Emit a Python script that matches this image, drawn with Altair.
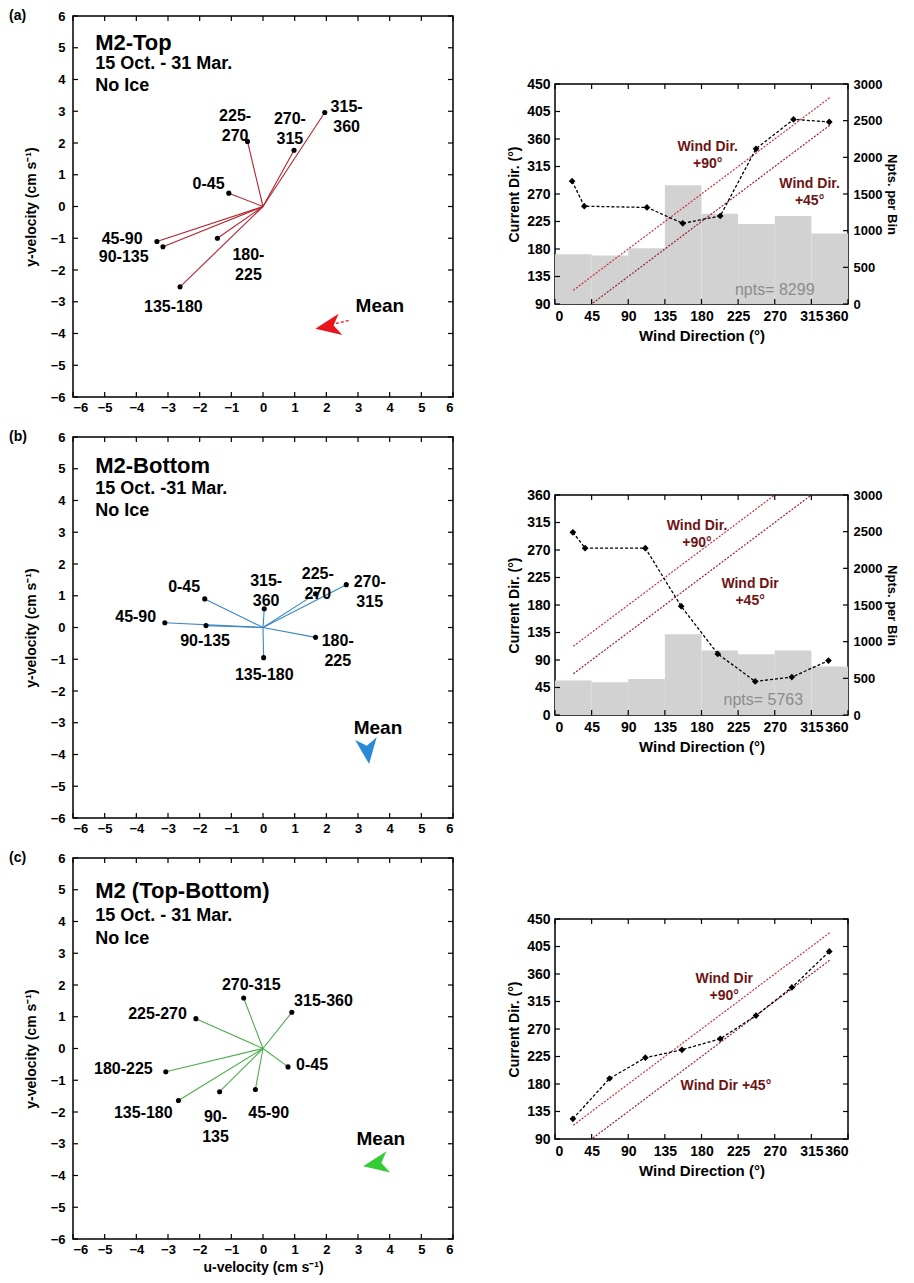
import altair as alt
import pandas as pd

FONT = "Liberation Sans"
LW, LH = 380, 381
RW, RH = 293, 220

# ---------------- data: left panels (vector endpoints, cm/s) ----------------
bin_names = ["0-45", "45-90", "90-135", "135-180", "180-225", "225-270", "270-315", "315-360"]

top_u = [-1.08, -3.35, -3.16, -2.62, -1.44, -0.49, 0.98, 1.95]
top_v = [0.42, -1.10, -1.27, -2.53, -1.00, 2.05, 1.77, 2.96]
top_lab = ["0-45", "45-90", "90-135", "135-180", "180-\n225", "225-\n270", "270-\n315", "315-\n360"]
top_lab_x = [-1.72, -4.45, -4.40, -2.83, -0.46, -0.88, 0.85, 2.64]
top_lab_y = [0.70, -1.03, -1.58, -3.15, -1.53, 2.85, 2.75, 3.12]

bot_u = [-1.84, -3.10, -1.80, 0.02, 1.66, 1.66, 2.63, 0.04]
bot_v = [0.90, 0.15, 0.06, -0.95, -0.31, 1.06, 1.35, 0.59]
bot_lab = ["0-45", "45-90", "90-135", "135-180", "180-\n225", "225-\n270", "270-\n315", "315-\n360"]
bot_lab_x = [-2.49, -4.02, -1.83, 0.04, 2.36, 1.73, 3.37, 0.10]
bot_lab_y = [1.27, 0.32, -0.44, -1.51, -0.44, 1.68, 1.44, 1.46]

dif_u = [0.79, -0.24, -1.37, -2.67, -3.07, -2.12, -0.61, 0.91]
dif_v = [-0.58, -1.29, -1.36, -1.64, -0.73, 0.94, 1.59, 1.14]
dif_lab = ["0-45", "45-90", "90-\n135", "135-180", "180-225", "225-270", "270-315", "315-360"]
dif_lab_x = [1.55, 0.18, -1.50, -3.78, -4.41, -3.33, -0.37, 1.91]
dif_lab_y = [-0.52, -2.02, -2.17, -2.02, -0.66, 1.10, 1.99, 1.49]

# mean arrows: [x, y]
top_mean = [2.05, -3.78]
bot_mean = [3.30, -3.90]
dif_mean = [3.56, -3.64]
top_mean_lab = [3.69, -3.13]
bot_mean_lab = [3.63, -3.18]
dif_mean_lab = [3.72, -2.84]
top_mean_tail_x = [2.15, 2.75]
top_mean_tail_y = [-3.72, -3.58]

# ---------------- data: right panels ----------------
bin_lo = [0, 45, 90, 135, 180, 225, 270, 315]
bin_hi = [45, 90, 135, 180, 225, 270, 315, 360]

top_wd = [21, 36, 113, 157, 203, 247, 293, 337]
top_cd = [291, 250, 248, 222, 234, 344, 392, 388]
top_hist = [680, 660, 760, 1620, 1230, 1090, 1200, 960]

bot_wd = [22, 37, 111, 155, 200, 246, 291, 336]
bot_cd = [299, 273, 273, 178, 100, 55, 62, 89]
bot_hist = [470, 445, 490, 1100, 880, 830, 880, 660]

dif_wd = [22, 67, 111, 156, 203, 247, 291, 337]
dif_cd = [123, 189, 223, 236, 254, 292, 338, 397]

ref_x = [22.5, 337.5]
ref90_y = [112.5, 427.5]
ref45_y = [67.5, 382.5]

ARROW = "M -1 0 L 1 -0.85 L 0.45 0 L 1 0.85 Z"


def tick_layers(xv, yv, xenc, yenc, W, H, tl=5):
    dx = pd.DataFrame({"t": xv})
    dy = pd.DataFrame({"t": yv})
    base = dict(color="black", strokeWidth=1.2)
    return [
        alt.Chart(dx).mark_rule(**base).encode(x=xenc("t"), y=alt.value(0), y2=alt.value(tl)),
        alt.Chart(dx).mark_rule(**base).encode(x=xenc("t"), y=alt.value(H), y2=alt.value(H - tl)),
        alt.Chart(dy).mark_rule(**base).encode(y=yenc("t"), x=alt.value(0), x2=alt.value(tl)),
        alt.Chart(dy).mark_rule(**base).encode(y=yenc("t"), x=alt.value(W - tl), x2=alt.value(W)),
    ]


def vec_panel(u, v, labs, lx, ly, vcolor, head, sub, title_y, mean_xy, mean_lab, mcolor, mangle,
              tag, xtitle=None, tail=None):
    vals = list(range(-6, 7))
    sc = alt.Scale(domain=[-6, 6], nice=False, zero=False)
    if xtitle:
        xax = alt.Axis(values=vals, labelFontSize=13, labelPadding=4, title=xtitle,
                       titleFontSize=14, titlePadding=4)
    else:
        xax = alt.Axis(values=vals, labelFontSize=13, labelPadding=4, title=None)
    yax = alt.Axis(values=vals, labelFontSize=13, labelPadding=8, title="y-velocity (cm s⁻¹)",
                   titleFontSize=14, titlePadding=12)

    def X(f):
        return alt.X(f, type="quantitative", scale=sc, axis=xax)

    def Y(f):
        return alt.Y(f, type="quantitative", scale=sc, axis=yax)

    d = pd.DataFrame({"bin": bin_names, "u": u, "v": v, "o": [0.0] * 8,
                      "lab": labs, "lx": lx, "ly": ly})
    layers = []
    layers.append(alt.Chart(d).mark_rule(color=vcolor, strokeWidth=1.1).encode(
        x=X("o"), y=Y("o"), x2="u", y2="v"))
    layers.append(alt.Chart(d).mark_point(filled=True, color="black", size=26, opacity=1).encode(
        x=X("u"), y=Y("v")))
    layers.append(alt.Chart(d).mark_text(font=FONT, fontWeight="bold", fontSize=16, lineBreak="\n",
                                         lineHeight=20, color="black").encode(
        x=X("lx"), y=Y("ly"), text="lab"))
    tdf = pd.DataFrame({"t": [head, sub, "No Ice"], "x": [-5.3] * 3, "y": title_y,
                        "fs": [22, 18, 18]})
    layers.append(alt.Chart(tdf).mark_text(font=FONT, fontWeight="bold", align="left", color="black").encode(
        x=X("x"), y=Y("y"), text="t", size=alt.Size("fs:Q", scale=None, legend=None)))
    mdf = pd.DataFrame({"x": [mean_xy[0]], "y": [mean_xy[1]], "lx": [mean_lab[0]], "ly": [mean_lab[1]],
                        "t": ["Mean"]})
    if tail is not None:
        tdf2 = pd.DataFrame({"x": [tail[0][0]], "x2": [tail[0][1]], "y": [tail[1][0]], "y2": [tail[1][1]]})
        layers.append(alt.Chart(tdf2).mark_rule(color=mcolor, strokeWidth=1.3, strokeDash=[3, 2]).encode(
            x=X("x"), y=Y("y"), x2="x2", y2="y2"))
    layers.append(alt.Chart(mdf).mark_point(shape=ARROW, filled=True, color=mcolor, size=650,
                                            angle=mangle, opacity=1).encode(x=X("x"), y=Y("y")))
    layers.append(alt.Chart(mdf).mark_text(font=FONT, fontWeight="bold", fontSize=19, color="black").encode(
        x=X("lx"), y=Y("ly"), text="t"))
    layers += tick_layers(vals, vals, X, Y, LW, LH)
    layers.append(alt.Chart(mdf).mark_text(font=FONT, fontWeight="bold", fontSize=14, align="left",
                                           baseline="middle", color="black").encode(
        x=alt.value(-64), y=alt.value(0), text=alt.value(tag)))
    return alt.layer(*layers).properties(width=LW, height=LH)


def dir_panel(wd, cd, ydom, texts, hist=None, npts=None):
    xvals = list(range(0, 361, 45))
    yvals = list(range(ydom[0], ydom[1] + 1, 45))
    xsc = alt.Scale(domain=[0, 360], nice=False, zero=False)
    ysc = alt.Scale(domain=ydom, nice=False, zero=False)
    xax = alt.Axis(values=xvals, labelFontSize=14, labelPadding=5, title="Wind Direction  (°)",
                   titleFontSize=15, titlePadding=5)
    yax = alt.Axis(values=yvals, labelFontSize=14, labelPadding=5, title="Current Dir. (°)",
                   titleFontSize=14, titlePadding=5)

    def X(f):
        return alt.X(f, type="quantitative", scale=xsc, axis=xax)

    def Y(f):
        return alt.Y(f, type="quantitative", scale=ysc, axis=yax)

    main = []
    rdf = pd.DataFrame({"x": ref_x, "y90": ref90_y, "y45": ref45_y})
    main.append(alt.Chart(rdf).mark_line(color="#d0303c", strokeWidth=1.2, strokeDash=[2, 1.5], clip=True).encode(
        x=X("x"), y=Y("y90")))
    main.append(alt.Chart(rdf).mark_line(color="#a01e2a", strokeWidth=1.2, strokeDash=[2, 1.5], clip=True).encode(
        x=X("x"), y=Y("y45")))
    cdf = pd.DataFrame({"wd": wd, "cd": cd})
    main.append(alt.Chart(cdf).mark_line(color="black", strokeWidth=1.3, strokeDash=[3, 2]).encode(
        x=X("wd"), y=Y("cd")))
    main.append(alt.Chart(cdf).mark_point(shape="diamond", filled=True, color="black", size=45, opacity=1).encode(
        x=X("wd"), y=Y("cd")))
    tdf = pd.DataFrame({"t": [t[0] for t in texts], "x": [t[1] for t in texts], "y": [t[2] for t in texts]})
    main.append(alt.Chart(tdf).mark_text(font=FONT, fontWeight="bold", fontSize=14, lineBreak="\n",
                                         lineHeight=17, color="#6e1414").encode(
        x=X("x"), y=Y("y"), text="t"))
    if npts is not None:
        ndf = pd.DataFrame({"t": [npts[0]], "x": [npts[1]], "y": [npts[2]]})
        main.append(alt.Chart(ndf).mark_text(font=FONT, fontSize=16, color="#8c8c8c").encode(
            x=X("x"), y=Y("y"), text="t"))
    main += tick_layers(xvals, yvals, X, Y, RW, RH)[:3]
    if hist is None:
        main += tick_layers(xvals, yvals, X, Y, RW, RH)[3:]
    main_layer = alt.layer(*main)
    if hist is None:
        return main_layer.properties(width=RW, height=RH)

    hsc = alt.Scale(domain=[0, 3000], nice=False, zero=False)
    hvals = list(range(0, 3001, 500))
    hax = alt.Axis(values=hvals, orient="right", format="d", labelFontSize=13, labelPadding=5,
                   title="Npts. per Bin", titleFontSize=13, titlePadding=3)

    def H(f):
        return alt.Y(f, type="quantitative", scale=hsc, axis=hax)

    hdf = pd.DataFrame({"lo": bin_lo, "hi": bin_hi, "n": hist, "zero": [0] * 8})
    hl = [alt.Chart(hdf).mark_rect(color="#d2d2d2", opacity=1).encode(x=X("lo"), x2="hi", y=H("n"), y2="zero")]
    dh = pd.DataFrame({"t": hvals})
    hl.append(alt.Chart(dh).mark_rule(color="black", strokeWidth=1.2).encode(
        y=H("t"), x=alt.value(RW - 5), x2=alt.value(RW)))
    hist_layer = alt.layer(*hl)
    return alt.layer(hist_layer, main_layer).resolve_scale(y="independent").properties(width=RW, height=RH)


def spacer(h):
    return alt.Chart(pd.DataFrame({"a": [0]})).mark_text(text="").encode(
        x=alt.value(RW / 2), y=alt.value(h / 2)).properties(
        width=RW, height=h, view=alt.ViewBackground(stroke="transparent"))


va = vec_panel(top_u, top_v, top_lab, top_lab_x, top_lab_y, "#b3232c", "M2-Top", "15 Oct. - 31 Mar.",
               [5.16, 4.5, 3.8], top_mean, top_mean_lab, "#e8151d", 350, "(a)",
               tail=(top_mean_tail_x, top_mean_tail_y))
vb = vec_panel(bot_u, bot_v, bot_lab, bot_lab_x, bot_lab_y, "#3a86c8", "M2-Bottom", "15 Oct. -31 Mar.",
               [5.08, 4.35, 3.67], bot_mean, bot_mean_lab, "#2a8ad8", 263, "(b)")
vc = vec_panel(dif_u, dif_v, dif_lab, dif_lab_x, dif_lab_y, "#4cae4c", "M2 (Top-Bottom)", "15 Oct. - 31 Mar.",
               [4.95, 4.16, 3.46], dif_mean, dif_mean_lab, "#35cc35", 350, "(c)",
               xtitle="u-velocity (cm s⁻¹)")

ra = dir_panel(top_wd, top_cd, [90, 450],
               [("Wind Dir.\n+90°", 187.6, 347), ("Wind Dir.\n+45°", 312.8, 286.6)],
               hist=top_hist, npts=("npts= 8299", 270, 113.5))
rb = dir_panel(bot_wd, bot_cd, [0, 360],
               [("Wind Dir.\n+90°", 174.5, 310), ("Wind Dir\n+45°", 239.7, 215)],
               hist=bot_hist, npts=("npts= 5763", 256, 24.5))
rc = dir_panel(dif_wd, dif_cd, [90, 450],
               [("Wind Dir\n+90°", 208, 352), ("Wind Dir +45°", 210, 176)])

HS = 51
chart = alt.vconcat(
    alt.hconcat(va, alt.vconcat(spacer(59), ra, spacing=0), spacing=HS),
    alt.hconcat(vb, alt.vconcat(spacer(49), rb, spacing=0), spacing=HS),
    alt.hconcat(vc, alt.vconcat(spacer(52), rc, spacing=0), spacing=HS),
    spacing=14,
).properties(padding={"left": 0, "top": 0, "right": 6, "bottom": 0}).configure_view(
    stroke="black", strokeWidth=1.5
).configure_axis(
    labelFont=FONT, titleFont=FONT, labelFontWeight="bold", titleFontWeight="bold",
    labelColor="black", titleColor="black", grid=False, ticks=False, domain=False
)

chart.save("out.html", embed_options={"renderer": "svg", "actions": False})
